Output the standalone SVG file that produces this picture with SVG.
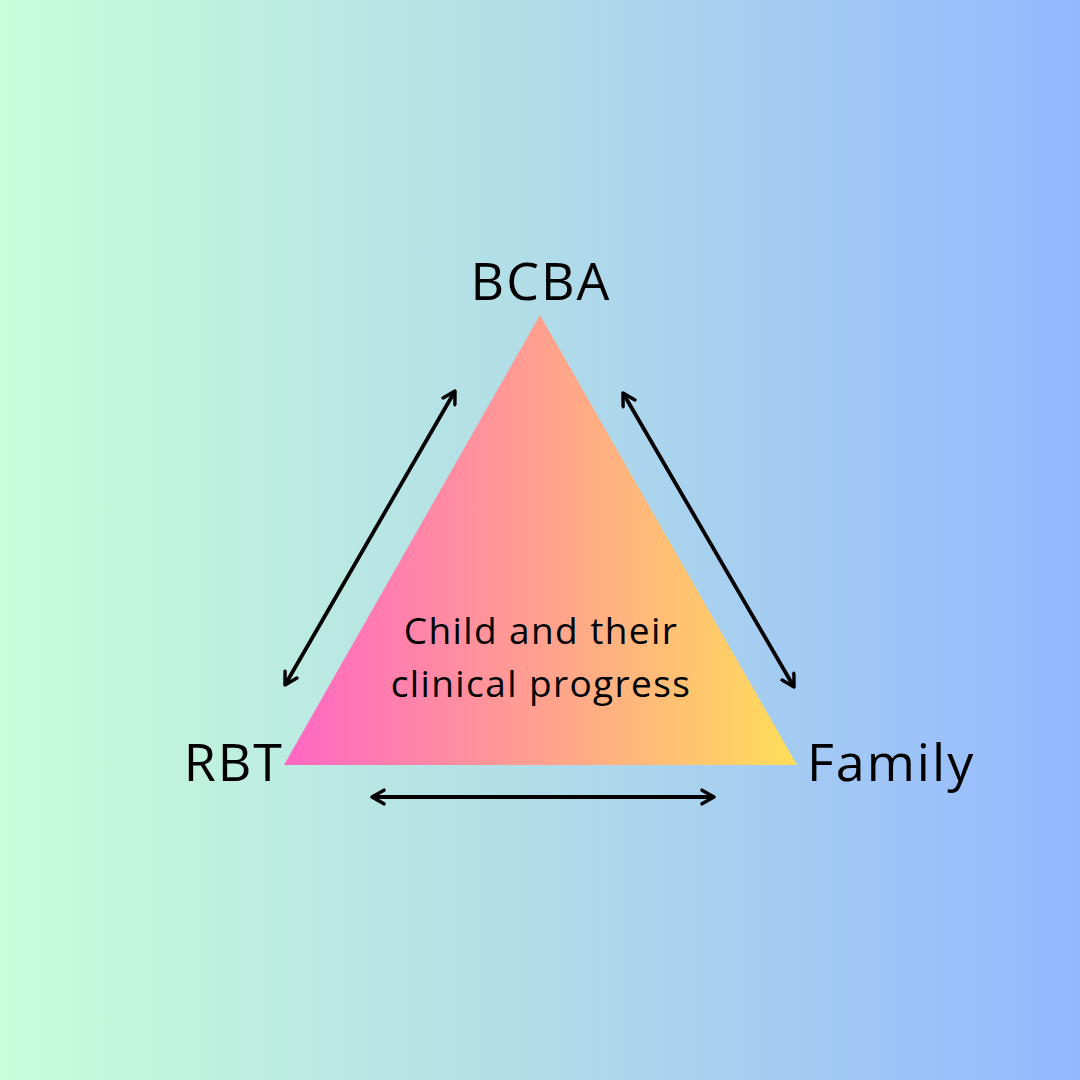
<svg xmlns="http://www.w3.org/2000/svg" width="1080" height="1080" viewBox="0 0 1080 1080">
<defs>
<linearGradient id="bg" x1="0" y1="0" x2="1" y2="0">
<stop offset="0" stop-color="#C8FED9"/>
<stop offset="0.5" stop-color="#B1DCE8"/>
<stop offset="1" stop-color="#94B8FF"/>
</linearGradient>
<linearGradient id="tri" x1="284" y1="0" x2="797" y2="0" gradientUnits="userSpaceOnUse">
<stop offset="0" stop-color="#FF66C4"/>
<stop offset="0.5" stop-color="#FFA08F"/>
<stop offset="1" stop-color="#FFDE59"/>
</linearGradient>
<marker id="ah" viewBox="0 0 10 10" refX="8" refY="5" markerWidth="4.5" markerHeight="4.5" orient="auto-start-reverse" markerUnits="strokeWidth">
<path d="M1,1 L8,5 L1,9" fill="none" stroke="#000" stroke-width="2" stroke-linecap="round" stroke-linejoin="round"/>
</marker>
<style>
.lbl{font-family:"Open Sans","Noto Sans","Liberation Sans",sans-serif;fill:#000}
.big{font-size:52px;letter-spacing:2px}
.mid{font-size:37px;letter-spacing:1.4px}
.conn{stroke:#000;stroke-width:3.8;fill:none;marker-start:url(#ah);marker-end:url(#ah)}
</style>
</defs>
<rect width="1080" height="1080" fill="url(#bg)"/>
<g id="center">
<polygon points="540,315 284,765 797,765" fill="url(#tri)"/>
<text class="lbl mid" x="541" y="644" text-anchor="middle">Child and their</text>
<text class="lbl mid" x="541" y="697" text-anchor="middle">clinical progress</text>
</g>
<g id="bcba"><text class="lbl big" x="541" y="300" text-anchor="middle">BCBA</text></g>
<g id="rbt"><text class="lbl big" x="284" y="781" text-anchor="end">RBT</text></g>
<g id="family"><text class="lbl big" x="807" y="781">Family</text></g>
<g id="connectors">
<line class="conn" x1="285" y1="685" x2="455" y2="391"/>
<line class="conn" x1="623" y1="393" x2="794" y2="687"/>
<line class="conn" x1="372" y1="797" x2="714" y2="797"/>
</g>
</svg>
